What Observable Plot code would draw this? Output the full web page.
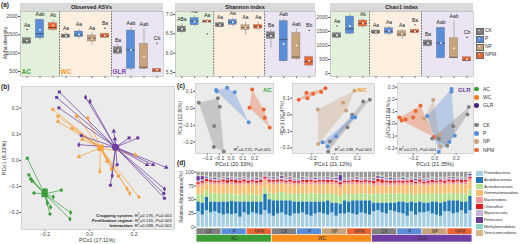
<!DOCTYPE html>
<html><head><meta charset="utf-8">
<script src="https://cdn.jsdelivr.net/npm/d3@7"></script>
<script src="https://cdn.jsdelivr.net/npm/@observablehq/plot@0.6"></script>
<style>
html,body{margin:0;padding:0;background:#fff;}
#root{position:relative;width:520px;height:244px;overflow:hidden;font-family:"Liberation Sans",Arial,Helvetica,sans-serif;color:#222;}
.t{position:absolute;white-space:nowrap;line-height:1;}
.rot{position:absolute;white-space:nowrap;line-height:1;transform:translate(-50%,-50%) rotate(-90deg);}
</style></head><body><div id="root"></div>
<script>
// ---------------- DATA ----------------
const boxKeys = ["AC-CK","AC-P","AC-NPM","WC-CK","WC-P","WC-NP","WC-NPM","GLR-CK","GLR-P","GLR-NP","GLR-NPM"];
const boxFert = ["CK","P","NPM","CK","P","NP","NPM","CK","P","NP","NPM"];
const fertNames = ["CK","P","NP","NPM"];
const sysNames = ["AC","WC","GLR"];

// Observed ASVs
const obsLo  = [1230,1345,1600,1400,1375,1210,1400, 960, 520, 550,480];
const obsQ1  = [1255,1408,1636,1419,1436,1318,1419, 982, 574, 574,482];
const obsMed = [1320,1527,1700,1460,1500,1410,1470,1060,1090, 618,520];
const obsQ3  = [1408,1910,1817,1509,1591,1482,1527,1163,1618,1255,574];
const obsHi  = [1420,1930,1900,1560,1650,1560,1540,1236,1700,1673,580];
const obsMean= [1340,1636,1755,1470,1510,1400,1480,1070,1090, 909,540];
const obsOutIdx = [0,6,10];
const obsOutVal = [1645,1681,1273];
const obsLetters = ["Aa","Aab","Ab","Aa","Aa","Aa","Ba","Ba","Aab","Aab","Cb"];

// Shannon index
const shLo  = [6.50,6.67,6.78,6.66,6.67,6.47,6.61,6.14,5.77,5.81,5.66];
const shQ1  = [6.54,6.72,6.79,6.67,6.73,6.60,6.63,6.37,5.79,5.85,5.68];
const shMed = [6.61,6.83,6.82,6.73,6.80,6.66,6.69,6.47,6.35,5.90,5.78];
const shQ3  = [6.69,6.91,6.845,6.78,6.86,6.72,6.73,6.54,6.83,6.52,5.90];
const shHi  = [6.76,6.97,6.86,6.80,6.91,6.80,6.80,6.60,6.89,6.63,5.94];
const shMean= [6.62,6.82,6.82,6.73,6.80,6.66,6.68,6.45,6.24,6.20,5.80];
const shOutIdx = [2,10];
const shOutVal = [6.50,6.59];
const shLetters = ["ABa","Aa","Aa","Aa","Aa","Aa","Aa","Ba","Aab","Aab","Bb"];

// Chao1 index
const chLo  = [1240,1380,1620,1380,1340,1220,1420, 940, 520, 520,420];
const chQ1  = [1274,1417,1678,1417,1417,1321,1439, 975, 546, 546,439];
const chMed = [1350,1595,1785,1475,1511,1400,1500,1086,1082, 582,475];
const chQ3  = [1439,2035,1892,1535,1618,1510,1560,1178,1631,1261,582];
const chHi  = [1470,2120,1950,1560,1680,1570,1580,1230,1660,1870,600];
const chMean= [1360,1700,1790,1480,1520,1410,1500,1080,1090, 900,500];
const chOutIdx = [0,6,10];
const chOutVal = [1700,1738,1296];
const chLetters = ["Aa","Aab","Ab","Aa","Aa","Aa","Ba","Ba","Aab","Aab","Cb"];

// (b) PCoA, points per cropping system
const acX = [-0.280,-0.273,-0.265,-0.258,-0.250,-0.205,-0.195,-0.127,-0.190,-0.163,-0.175,-0.178,-0.085,-0.088];
const acY = [0.008,-0.056,-0.071,-0.080,-0.125,-0.113,-0.113,-0.114,-0.164,-0.140,-0.180,-0.206,-0.200,-0.225];
const acF = ["CK","CK","P","CK","P","CK","P","CK","NPM","NPM","NPM","P","NPM","NPM"];
const wcX = [-0.165,-0.142,-0.142,-0.058,-0.008,-0.078,-0.033,-0.048,0.046,0.079,0.098,0.207,0.169,0.181,0.222,0.130];
const wcY = [0.195,0.169,0.149,0.169,0.162,0.123,0.080,0.014,-0.043,-0.004,-0.033,0.021,-0.110,-0.127,-0.140,-0.060];
const wcF = ["CK","CK","NP","P","P","CK","NP","NP","NPM","P","NPM","NP","NPM","NPM","P","CK"];
const glrX = [-0.148,-0.136,-0.138,-0.018,0.002,0.109,0.114,0.178,0.217,-0.048,-0.037,0.259,0.286,0.345,0.337,0.334,0.337,0.094,0.102,0.124];
const glrY = [0.241,0.262,0.201,0.242,0.226,0.112,0.082,0.086,0.086,0.060,0.095,-0.017,-0.017,-0.027,-0.110,-0.127,-0.145,-0.095,-0.059,-0.017];
const glrF = ["CK","CK","CK","NPM","NPM","NP","NP","CK","CK","NPM","P","NP","NP","NP","NPM","P","P","P","NPM","P"];
const bCenX = [-0.202, 0.049, 0.117];
const bCenY = [-0.129, 0.048, 0.050];

// (c) PCoA per system
const c1X = [-0.274,-0.112,-0.095,-0.143,-0.146,-0.061, -0.126,-0.120,-0.032,0.032,0.151, 0.180,0.157,0.279,0.288,0.330];
const c1Y = [0.034,0.060,0.010,-0.104,-0.230,-0.256, 0.110,0.100,0.123,0.096,-0.082, 0.112,0.004,-0.006,-0.056,-0.114];
const c1F = ["CK","CK","CK","CK","CK","CK","P","P","P","P","P","NPM","NPM","NPM","NPM","NPM"];
const c2X = [-0.313,-0.246,-0.237,-0.187,-0.117,-0.079, -0.146,0.076,0.102,0.175,-0.143, 0.252,0.310,0.155,0.114,-0.041,-0.055, -0.105,-0.061,0.015,0.155,0.173,0.182];
const c2Y = [0.091,0.133,0.100,0.127,0.137,0.161, 0.032,0.073,0.026,0.145,-0.176, 0.080,0.091,0.000,-0.075,-0.162,-0.222, -0.166,-0.192,-0.130,-0.015,-0.015,-0.015];
const c2F = ["NPM","NPM","NPM","NPM","NPM","NPM","NP","NP","NP","NP","NP","CK","CK","CK","CK","CK","CK","P","P","P","P","P","P"];
const c3X = [-0.330,-0.311,-0.274,-0.202,-0.180,-0.134,-0.009, -0.015,-0.103,0.047,0.053, 0.156,0.156,-0.071,0.137,0.187,0.037, 0.318,0.305,0.172,0.037,0.116,-0.024];
const c3Y = [0.052,0.028,0.036,0.052,0.104,0.148,-0.107, 0.194,0.044,-0.093,-0.183, 0.284,0.262,0.063,-0.148,-0.098,-0.230, 0.138,0.076,-0.019,-0.120,-0.180,-0.120];
const c3F = ["NPM","NPM","NPM","NPM","NPM","NPM","NPM","NP","NP","NP","NP","P","P","P","P","P","P","CK","CK","CK","CK","CK","CK"];

// (d) relative abundance, 11 groups x 6 replicates
const dGroupSys  = ["AC","AC","AC","WC","WC","WC","WC","GLR","GLR","GLR","GLR"];
const dGroupFert = ["CK","P","NPM","CK","P","NP","NPM","CK","P","NP","NPM"];
const dReps = 6;
const phyla = ["Proteobacteria","Acidobacteriota","Actinobacteriota","Gemmatimonadota","Bacteroidota","Chloroflexi","Myxococcota","Firmicutes","Methylomirabilota","Verrucomicrobiota"];
const proteo = [28,22,30,26,28,25, 22,24,23,24,18,26, 22,26,24,22,30,24, 20,24,26,22,20,24, 24,26,22,20,24,26, 24,22,26,20,24,24, 26,24,22,26,24,22, 28,30,26,24,30,28, 26,24,20,28,22,26, 26,28,24,22,20,28, 28,24,26,30,24,30];
const acido  = [18,22,24,20,18,20, 24,22,24,22,28,20, 24,20,22,24,30,26, 28,24,22,26,28,22, 22,20,24,26,22,20, 22,26,18,24,18,24, 20,24,26,22,24,26, 16,14,18,20,14,16, 20,22,24,18,22,20, 18,16,22,24,24,18, 20,24,22,16,22,26];
const actino = [14,16,12,15,16,15, 15,14,13,14,12,15, 13,14,12,13,10,12, 12,14,15,13,12,14, 14,15,14,16,14,15, 14,13,16,15,14,13, 13,12,12,13,12,11, 16,17,15,16,17,16, 15,14,16,15,14,15, 16,17,14,15,16,14, 14,13,13,15,14,12];
const gemma  = [14,15,13,16,15,16, 16,16,17,16,18,16, 17,17,18,17,14,16, 17,16,15,16,17,16, 16,16,17,15,17,16, 17,16,17,18,16,16, 18,17,17,16,17,18, 14,15,16,15,14,15, 15,16,16,15,17,16, 15,14,16,16,17,16, 16,16,17,16,17,15];
const bactero= [4,5,4,5,4,5, 5,4,5,4,4,5, 4,5,4,5,4,4, 5,4,5,4,5,4, 4,5,4,5,4,5, 5,4,5,4,5,4, 4,5,4,4,5,4, 5,6,5,6,5,5, 5,4,5,5,4,5, 4,5,5,4,5,4, 5,4,5,4,5,5];
const chloro = [3,3,4,3,3,3, 4,5,4,5,4,4, 4,3,4,4,3,4, 3,4,3,3,4,3, 3,3,4,3,3,3, 3,4,3,3,4,3, 3,3,4,3,3,3, 4,5,6,3,4,4, 3,4,3,4,3,4, 3,3,4,3,3,4, 3,4,3,4,3,3];
const myxo   = [3,3,2,3,3,2, 3,2,3,3,2,3, 2,3,3,2,3,3, 3,2,3,3,2,3, 2,3,3,2,3,3, 3,3,2,3,3,2, 3,2,3,3,2,3, 3,2,3,3,3,2, 3,3,2,3,3,3, 2,3,3,2,3,3, 3,3,2,3,2,3];
const firmi  = [8,6,2,1,2,1, 1,2,1,1,2,1, 1,1,2,1,1,1, 2,1,3,1,2,1, 1,2,1,1,2,1, 1,2,1,2,10,1, 1,1,2,1,1,1, 2,3,2,1,2,2, 1,2,1,1,2,1, 2,1,1,2,1,1, 1,2,1,1,1,2];
const methyl = [1.0,0.8,1.2,1.0,0.9,1.1, 0.9,1.0,0.8,1.1,1.0,0.9, 1.2,1.0,0.9,1.1,0.8,1.0, 1.0,1.1,0.9,1.0,1.2,0.9, 0.8,1.0,1.1,0.9,1.0,1.2, 1.0,0.9,1.1,1.0,0.8,1.0, 1.1,1.0,0.9,1.2,1.0,0.9, 1.3,1.2,1.4,1.1,1.3,1.2, 1.1,1.3,1.2,1.0,1.2,1.1, 1.2,1.1,1.3,1.2,1.0,1.2, 1.1,1.2,1.0,1.3,1.1,1.2];
const verruco= [1.2,1.0,0.9,1.1,1.0,1.2, 1.0,1.1,1.2,0.9,1.0,1.1, 0.9,1.1,1.0,1.2,1.0,0.9, 1.1,0.9,1.0,1.2,1.0,1.1, 1.0,1.2,0.9,1.0,1.1,1.0, 0.9,1.0,1.2,1.1,1.0,0.9, 1.0,1.1,1.0,0.9,1.2,1.0, 1.2,1.0,1.1,1.3,1.0,1.2, 1.0,1.1,1.2,1.0,1.1,0.9, 1.1,1.0,1.2,1.1,1.0,1.2, 1.0,1.1,1.2,1.0,1.1,1.0];

// ---------------- STYLE ----------------
const FONT = '"Liberation Sans", Arial, sans-serif';
const fertColor = {CK:"#808080", P:"#5b8ed8", NP:"#c9a37c", NPM:"#ee6433"};
const fertSymbol = {CK:"square", P:"circle", NP:"triangle", NPM:"diamond"};
const sysColor = {AC:"#3c9d3c", WC:"#f4a03c", GLR:"#6b3d9e"};
const sysColorD = {AC:"#3c9d36", WC:"#fb8c1e", GLR:"#6f3fa3"};
const phylaColors = ["#a6cee3","#1f78b4","#b2df8a","#fdbf6f","#fb9a99","#e31a1c","#cab2d6","#6a3d9a","#8dd3c7","#d8b88c"];
const othersColor = "#999999";
const baseStyle = {background:"transparent", fontSize:"5px", fontFamily:FONT, color:"#444", overflow:"visible"};

const root = document.getElementById("root");
function put(svg, left, top){ svg.style.position="absolute"; svg.style.left=left+"px"; svg.style.top=top+"px"; root.appendChild(svg); return svg; }
function txt(html, x, y, css=""){ const d=document.createElement("div"); d.className="t"; d.innerHTML=html; d.style.cssText += `left:${x}px;top:${y}px;` + css; root.appendChild(d); return d; }
function rot(html, cx, cy, css=""){ const d=document.createElement("div"); d.className="rot"; d.innerHTML=html; d.style.cssText += `left:${cx}px;top:${cy}px;` + css; root.appendChild(d); return d; }

// ---------------- (a) ----------------
function alphaPanel(o){
  const idx = d3.range(boxKeys.length);
  const [y0, y1] = o.yDomain;
  const bands = [[-0.5,2.5,"#e3f1dc"],[2.5,6.5,"#fdefdf"],[6.5,10.5,"#ebe5f3"]];
  const outs = o.outIdx.map((k,j)=>({i:k, v:o.outVal[j]}));
  const top = idx.map(i => Math.max(o.hi[i], ...outs.filter(p=>p.i===i).map(p=>p.v)));
  const marks = [
    Plot.rect(bands, {x1:d=>d[0], x2:d=>d[1], y1:y0, y2:y1, fill:d=>d[2]}),
    Plot.ruleX([2.5,6.5], {stroke:"#555", strokeWidth:0.9, strokeDasharray:"1.6,1.2"}),
    Plot.ruleX(idx, {x:i=>i, y1:i=>o.lo[i], y2:i=>o.hi[i], stroke:"#8a8a8a", strokeWidth:0.6}),
    Plot.rect(idx, {x1:i=>i-0.32, x2:i=>i+0.32, y1:i=>o.q1[i], y2:i=>o.q3[i], fill:i=>fertColor[boxFert[i]], stroke:"#666", strokeWidth:0.3}),
    Plot.ruleY(idx, {y:i=>o.med[i], x1:i=>i-0.32, x2:i=>i+0.32, stroke:"#333", strokeWidth:0.6}),
    Plot.dot(idx, {x:i=>i, y:i=>o.mean[i], r:0.9, symbol:"square", fill:"white"}),
    Plot.dot(outs, {x:"i", y:"v", r:0.7, fill:"#222"}),
    Plot.text(idx, {x:i=>i, y:i=>top[i], text:i=>o.letters[i], dy:-4.5, fontSize:5, fill:"#222"}),
    Plot.frame({stroke:"#b0b0b0", strokeWidth:0.6})
  ];
  if (o.sysLabels) {
    marks.push(Plot.text(sysNames, {x:(d,i)=>[-0.42,2.58,6.58][i], y:y0, dy:-4.5, text:d=>d, textAnchor:"start", fill:d=>({AC:"#3aa23a",WC:"#f39a2a",GLR:"#7a4bb0"})[d], fontSize:6.5, fontWeight:"bold"}));
  }
  const svg = Plot.plot({
    width:o.width, height:80, marginLeft:o.mLeft, marginRight:2, marginTop:11, marginBottom:4,
    style: baseStyle,
    color:{type:"identity"},
    x:{domain:[-0.5,10.5], ticks:d3.range(11), tickFormat:()=>"", tickSize:1.8, label:null},
    y:{domain:o.yDomain, ticks:o.yTicks, tickFormat:o.fmt, tickSize:1.8, tickPadding:1, label:null},
    marks
  });
  put(svg, o.left, 0);
  txt(o.title, o.left + o.mLeft, 3, `width:${o.width-o.mLeft-2}px;height:8px;line-height:8px;background:#d9d9d9;text-align:center;font-weight:bold;font-size:5.5px;color:#222;`);
}
alphaPanel({left:0, width:165, mLeft:20, title:"Observed ASVs", lo:obsLo, q1:obsQ1, med:obsMed, q3:obsQ3, hi:obsHi, mean:obsMean, outIdx:obsOutIdx, outVal:obsOutVal, letters:obsLetters, yDomain:[364,2136], yTicks:[500,1000,1500,2000], fmt:d=>String(d), sysLabels:true});
alphaPanel({left:160, width:157, mLeft:15, title:"Shannon index", lo:shLo, q1:shQ1, med:shMed, q3:shQ3, hi:shHi, mean:shMean, outIdx:shOutIdx, outVal:shOutVal, letters:shLetters, yDomain:[5.397,7.078], yTicks:[5.5,6.0,6.5,7.0], fmt:d3.format(".1f")});
alphaPanel({left:314, width:161, mLeft:16, title:"Chao1 index", lo:chLo, q1:chQ1, med:chMed, q3:chQ3, hi:chHi, mean:chMean, outIdx:chOutIdx, outVal:chOutVal, letters:chLetters, yDomain:[-107,2214], yTicks:[0,500,1000,1500,2000], fmt:d=>String(d)});
rot("Alpha diversity", 5, 43, "font-size:5px;color:#333;");
txt("(a)", 1, 2, "font-weight:bold;font-size:6.5px;");
// legend (a)
fertNames.forEach((f,k)=>{
  const y = 27.5 + 8*k;
  txt("", 476, y, `width:6px;height:5px;background:${fertColor[f]};border:0.5px solid #666;`);
  txt("", 478.5, y+2, `width:1.5px;height:1.5px;background:#fff;`);
  txt(f, 485, y+0.5, "font-size:5px;color:#333;");
});

// ---------------- (b) ----------------
function bPts(X, Y, F, s){ return X.map((x,i)=>({x, y:Y[i], f:F[i], s})); }
const bPoints = [...bPts(acX,acY,acF,"AC"), ...bPts(wcX,wcY,wcF,"WC"), ...bPts(glrX,glrY,glrF,"GLR")];
const bCen = sysNames.map((s,i)=>({s, x:bCenX[i], y:bCenY[i]}));
const cenOf = Object.fromEntries(bCen.map(c=>[c.s,c]));
const bMarks = [
  Plot.frame({fill:"#ebebeb", stroke:"#bdbdbd", strokeWidth:0.6}),
  Plot.link(bPoints, {x1:"x", y1:"y", x2:d=>cenOf[d.s].x, y2:d=>cenOf[d.s].y, stroke:d=>sysColor[d.s], strokeWidth:0.8, strokeOpacity:0.9})
];
fertNames.forEach(f=>{
  bMarks.push(Plot.dot(bPoints.filter(d=>d.f===f), {x:"x", y:"y", fill:d=>sysColor[d.s], symbol:fertSymbol[f], r:1.7}));
});
bMarks.push(Plot.dot(bCen.filter(d=>d.s!=="GLR"), {x:"x", y:"y", fill:d=>sysColor[d.s], symbol:"square", r:3.6}));
bMarks.push(Plot.dot(bCen.filter(d=>d.s==="GLR"), {x:"x", y:"y", fill:d=>sysColor[d.s], symbol:"circle", r:3.6}));
put(Plot.plot({
  width:176, height:159, marginLeft:21, marginRight:2, marginTop:1, marginBottom:15,
  style: baseStyle, color:{type:"identity"},
  x:{domain:[-0.306,0.382], ticks:[-0.2,0,0.2], tickFormat:d3.format(".1f"), tickSize:1.8, tickPadding:1, label:null},
  y:{domain:[-0.265,0.283], ticks:[-0.2,-0.1,0,0.1,0.2], tickFormat:d3.format(".1f"), tickSize:1.8, tickPadding:1, label:null},
  marks: bMarks
}), 0, 85);
txt("(b)", 1, 84, "font-weight:bold;font-size:6.5px;");
txt("PCo1 (17.11%)", 97, 237.6, "transform:translateX(-50%);font-size:5.3px;color:#333;");
rot("PCo1 (8.33%)", 5, 158, "font-size:5.5px;color:#333;");
const annCss = "transform:translateX(-100%);font-size:4.4px;color:#222;";
txt("<b>Cropping system:</b> R<sup style='font-size:3px'>2</sup>=0.176, <i>P</i>=0.001", 172, 213, annCss);
txt("<b>Fertilization regime:</b> R<sup style='font-size:3px'>2</sup>=0.116, <i>P</i>=0.001", 172, 218.2, annCss);
txt("<b>Interaction:</b> R<sup style='font-size:3px'>2</sup>=0.098, <i>P</i>=0.001", 172, 223.4, annCss);

// ---------------- (c) ----------------
function cPanel(o){
  const pts = o.X.map((x,i)=>({x, y:o.Y[i], f:o.F[i]}));
  const svg = Plot.plot({
    width:o.mLeft + o.fw + 2, height:85, marginLeft:o.mLeft, marginRight:2, marginTop:3, marginBottom:12,
    style: baseStyle, color:{type:"identity"},
    x:{domain:o.xDomain, ticks:o.xTicks, tickFormat:d3.format(".1f"), tickSize:1.8, tickPadding:1, label:null},
    y:{domain:o.yDomain, ticks:o.yTicks, tickFormat:d3.format(".1f"), tickSize:1.8, tickPadding:1, label:null},
    marks:[
      Plot.frame({fill:"#ebebeb", stroke:"#bdbdbd", strokeWidth:0.6}),
      Plot.hull(pts, {x:"x", y:"y", z:"f", fill:d=>fertColor[d.f], fillOpacity:0.35, stroke:"none"}),
      Plot.dot(pts, {x:"x", y:"y", fill:d=>fertColor[d.f], r:2})
    ]
  });
  put(svg, o.left, 80);
  txt(o.xlab, o.left + o.mLeft + o.fw/2, 162, "transform:translateX(-50%);font-size:5.5px;color:#333;");
  rot(o.ylab, o.ylabX, 118, "font-size:5px;color:#333;");
  txt(o.sys, o.sysX, 87, `font-weight:bold;font-size:6px;color:${o.sysCol};`);
  txt(`R<sup style='font-size:3px'>2</sup>=${o.r2}, <i>P</i>=0.001`, o.annX, 146.5, (o.annRight ? "transform:translateX(-100%);" : "") + "font-size:4.4px;color:#222;");
}
cPanel({left:183, mLeft:12, fw:78, X:c1X, Y:c1Y, F:c1F, xDomain:[-0.302,0.362], yDomain:[-0.268,0.148], xTicks:[-0.2,-0.1,0,0.1,0.2], yTicks:[-0.2,-0.1,0,0.1], xlab:"PCo1 (20.33%)", ylab:"PCo1 (12.80%)", ylabX:180, sys:"AC", sysX:263, sysCol:"#3aa23a", r2:"0.272", annX:271, annRight:true});
cPanel({left:280, mLeft:12, fw:82, X:c2X, Y:c2Y, F:c2F, xDomain:[-0.368,0.351], yDomain:[-0.234,0.189], xTicks:[-0.2,0,0.2], yTicks:[-0.2,-0.1,0,0.1], xlab:"PCo1 (21.12%)", ylab:"PCo1 (10.47%)", ylabX:282, sys:"WC", sysX:357, sysCol:"#f39a2a", r2:"0.238", annX:372, annRight:true});
cPanel({left:385, mLeft:12, fw:76, X:c3X, Y:c3Y, F:c3F, xDomain:[-0.349,0.362], yDomain:[-0.243,0.33], xTicks:[-0.2,0,0.2], yTicks:[-0.2,-0.1,0,0.1,0.2,0.3], xlab:"PCo1 (21.35%)", ylab:"PCo1 (11.51%)", ylabX:388, sys:"GLR", sysX:458, sysCol:"#6b3d9e", r2:"0.271", annX:399, annRight:false});
txt("(c)", 177, 83, "font-weight:bold;font-size:6.5px;");
// legend (c)
const cLegSys = {AC:"#2e9e2e", WC:"#f57f17", GLR:"#4a1f7a"};
sysNames.forEach((s,k)=>{
  const y = 86.7 + 8.35*k;
  txt("", 474, y, `width:4.5px;height:4.5px;border-radius:50%;background:${cLegSys[s]};`);
  txt(s, 483, y, "font-size:5px;color:#333;");
});
fertNames.forEach((f,k)=>{
  const y = 122.7 + 8.35*k;
  txt("", 474, y, `width:4.5px;height:4.5px;border-radius:50%;background:${fertColor[f]};`);
  txt(f, 483, y, "font-size:5px;color:#333;");
});

// ---------------- (d) ----------------
const series = [proteo, acido, actino, gemma, bactero, chloro, myxo, firmi, methyl, verruco];
const nBars = dGroupFert.length * dReps;
const dLong = [];
for (let i = 0; i < nBars; i++) {
  let s = 0;
  series.forEach((arr,k)=>{ dLong.push({i, k, v:arr[i]}); s += arr[i]; });
  dLong.push({i, k:10, v:Math.max(0, 100 - s)});
}
const fertStrips = dGroupFert.map((f,g)=>({x1:g*dReps, x2:(g+1)*dReps, f}));
const sysStrips = sysNames.map(s=>{
  const gs = dGroupSys.map((v,g)=>v===s?g:-1).filter(g=>g>=0);
  return {x1:gs[0]*dReps, x2:(gs[gs.length-1]+1)*dReps, s};
});
put(Plot.plot({
  width:298, height:84, marginLeft:20, marginRight:2, marginTop:11.7, marginBottom:17.3,
  style: baseStyle, color:{type:"identity"},
  x:{domain:[0,nBars], axis:null},
  y:{domain:[0,100], ticks:[0,25,50,75,100], tickSize:1.8, tickPadding:1, label:null},
  marks:[
    Plot.rectY(dLong, {x:"i", interval:1, y:"v", fill:d=>d.k<10?phylaColors[d.k]:othersColor, insetLeft:0.45, insetRight:0.45}),
    Plot.rect(fertStrips, {x1:"x1", x2:"x2", y1:-2.9, y2:-13.3, fill:d=>fertColor[d.f], insetLeft:0.4, insetRight:0.4}),
    Plot.text(fertStrips, {x:d=>(d.x1+d.x2)/2, y:-8.1, text:"f", fontSize:4.5, fill:"#333"}),
    Plot.rect(sysStrips, {x1:"x1", x2:"x2", y1:-14.5, y2:-27.3, fill:d=>sysColorD[d.s], insetLeft:0.4, insetRight:0.4}),
    Plot.text(sysStrips, {x:d=>(d.x1+d.x2)/2, y:-20.9, text:"s", fontSize:4.5, fill:"#333"})
  ]
}), 176, 160);
txt("(d)", 177, 160, "font-weight:bold;font-size:6.5px;");
rot("Relative Abundance(%)", 181, 197, "font-size:5px;color:#333;");
phyla.forEach((p,k)=>{
  const y = 170.5 + 6.65*k;
  txt("", 475.5, y, `width:7px;height:5.5px;background:${phylaColors[k]};`);
  txt(p, 484, y+0.8, "font-size:4.1px;color:#333;letter-spacing:-0.05px;");
});
</script></body></html>
